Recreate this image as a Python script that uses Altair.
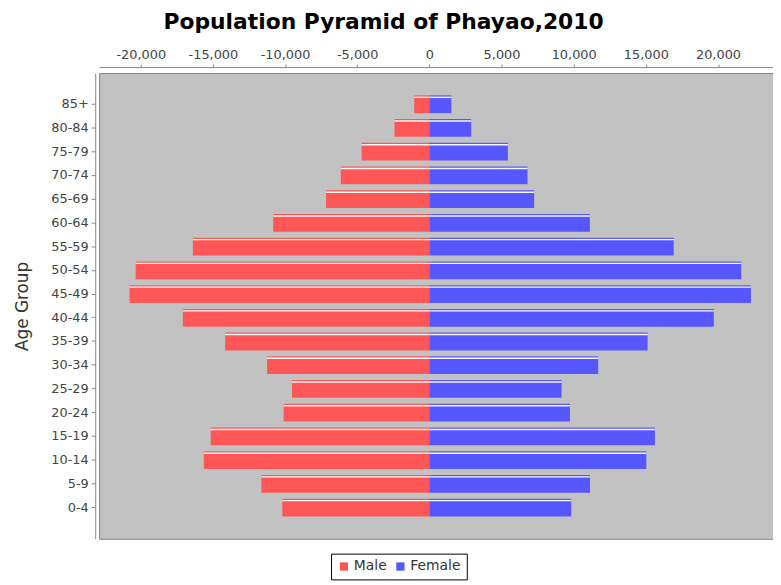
import altair as alt
import pandas as pd

ages = ["85+", "80-84", "75-79", "70-74", "65-69", "60-64", "55-59", "50-54",
        "45-49", "40-44", "35-39", "30-34", "25-29", "20-24", "15-19", "10-14",
        "5-9", "0-4"]
male = [1050, 2420, 4690, 6140, 7160, 10820, 16390, 20350,
        20770, 17080, 14150, 11250, 9520, 10100, 15150, 15630, 11640, 10190]
female = [1520, 2900, 5440, 6800, 7260, 11120, 16930, 21610,
          22280, 19710, 15120, 11700, 9160, 9740, 15630, 15030, 11130, 9830]

rows = []
for a, m, f in zip(ages, male, female):
    rows.append({"Age": a, "Sex": "Male", "Value": -m})
    rows.append({"Age": a, "Sex": "Female", "Value": f})
df = pd.DataFrame(rows)

ticks = [-20000, -15000, -10000, -5000, 0, 5000, 10000, 15000, 20000]

xenc = alt.X(
    "Value:Q",
    stack=None,
    scale=alt.Scale(domain=[-22880, 23810], nice=False, zero=False),
    axis=alt.Axis(
        orient="top", values=ticks, title=None, grid=False, offset=6,
        labelExpr="(datum.value < 0 ? '-' : '') + format(abs(datum.value), ',')",
        labelFont="DejaVu Sans", labelFontSize=13, labelColor="#444444",
        domainColor="#888888", tickColor="#888888", tickSize=3, labelPadding=3,
    ),
)
yenc = alt.Y(
    "Age:N",
    sort=ages,
    scale=alt.Scale(paddingInner=0.25, paddingOuter=0.94),
    axis=alt.Axis(
        title="Age Group", offset=4,
        labelFont="DejaVu Sans", labelFontSize=13, labelColor="#444444",
        titleFont="DejaVu Sans", titleFontSize=17, titleFontWeight="normal",
        titleColor="#333333", titlePadding=20,
        domainColor="#888888", tickColor="#888888", tickSize=4, labelPadding=3,
    ),
)

color = alt.Color(
    "Sex:N",
    scale=alt.Scale(domain=["Male", "Female"], range=["#ff5757", "#5757ff"]),
    legend=alt.Legend(
        title=None, orient="none", legendX=234, legendY=485,
        direction="horizontal", strokeColor="#000000", fillColor="#ffffff",
        padding=6, symbolType="square", symbolSize=70, symbolStrokeWidth=0,
        labelFont="DejaVu Sans", labelFontSize=14, labelColor="#333333",
        columnPadding=6, labelOffset=3,
    ),
)

bars = alt.Chart(df).mark_bar(opacity=1).encode(x=xenc, x2=alt.datum(0), y=yenc, color=color)
shine = alt.Chart(df).mark_bar(size=1.4, yOffset=-7, color="white", opacity=0.95).encode(
    x=alt.X("Value:Q", stack=None), x2=alt.datum(0), y=alt.Y("Age:N", sort=ages)
)

chart = (
    alt.layer(bars, shine)
    .properties(
        width=680, height=470,
        autosize=alt.AutoSizeParams(type="none"),
        padding={"left": 92, "top": 63, "right": 0, "bottom": 43},
        view=alt.ViewBackground(fill="#c2c2c2", stroke="#808080", strokeWidth=1),
        title=alt.TitleParams(
            "Population Pyramid of Phayao,2010",
            font="DejaVu Sans", fontSize=22, fontWeight="bold", color="#000000",
            anchor="middle", dx=-53, offset=14,
        ),
    )
    .configure_view(fill="#c2c2c2", stroke="#808080", strokeWidth=1)
    .configure(background="white")
)

chart.save("out.html", embed_options={"renderer": "svg", "actions": False})
